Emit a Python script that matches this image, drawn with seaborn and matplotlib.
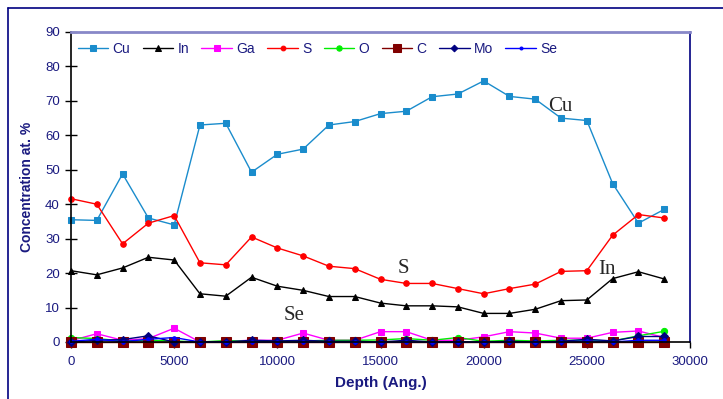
import numpy as np
import pandas as pd
import seaborn as sb
from matplotlib import pyplot as plt
from matplotlib.lines import Line2D

depth = [i * 1250 for i in range(24)]

cu = [35.5, 35.3, 48.8, 36.0, 34.0, 63.0, 63.5, 49.3, 54.5, 56.0, 63.0, 64.0,
      66.3, 67.0, 71.2, 72.0, 75.8, 71.3, 70.5, 65.0, 64.3, 46.0, 34.5, 38.5]
in_ = [20.7, 19.5, 21.5, 24.6, 23.8, 14.0, 13.3, 18.8, 16.2, 15.0, 13.2, 13.2,
       11.3, 10.5, 10.5, 10.2, 8.3, 8.3, 9.5, 12.0, 12.2, 18.4, 20.4, 18.3]
ga = [0.4, 2.4, 0.5, 1.0, 4.0, 0.0, 0.2, 0.5, 0.5, 2.6, 0.5, 0.5,
      3.0, 3.0, 0.5, 0.5, 1.5, 3.0, 2.6, 1.1, 1.1, 2.8, 3.2, 1.3]
s = [41.6, 40.0, 28.5, 34.5, 36.7, 23.0, 22.4, 30.5, 27.3, 25.0, 22.0, 21.3,
     18.2, 17.0, 17.0, 15.5, 14.0, 15.5, 16.8, 20.5, 20.7, 31.0, 37.0, 36.0]
o = [1.3, 1.0, 0.3, 0.5, 0.3, 0.0, 0.4, 0.2, 0.3, 0.3, 0.5, 0.5,
     0.6, 1.0, 0.5, 1.3, 0.2, 0.5, 0.3, 0.5, 0.5, 0.3, 1.8, 3.1]
c = [0.0] * 24
mo = [0.0, 0.5, 0.7, 1.8, 0.0, 0.0, 0.0, 0.5, 0.3, 0.5, 0.2, 0.2,
      0.0, 0.5, 0.0, 0.0, 0.0, 0.2, 0.0, 0.2, 0.8, 0.3, 1.6, 1.6]
se = [0.2, 0.8, 0.1, 0.8, 1.3, 0.0, 0.0, 0.0, 0.0, 0.0, 0.0, 0.0,
      0.0, 0.0, 0.0, 0.0, 0.0, 0.0, 0.0, 0.0, 0.3, 0.0, 0.5, 0.5]

series = [
    ("Cu", cu, "#1a8ccc", "s", 4.5),
    ("In", in_, "black", "^", 5),
    ("Ga", ga, "#ff00ff", "s", 4.5),
    ("S", s, "#ff0000", "o", 4),
    ("O", o, "#00ee00", "o", 4.5),
    ("C", c, "#800000", "s", 7),
    ("Mo", mo, "#000080", "D", 4),
    ("Se", se, "#0000ff", "o", 2.5),
]

navy = "#1a1a80"
sb.set_theme(style="white")
plt.rcParams["font.family"] = ["Liberation Sans", "DejaVu Sans"]

fig = plt.figure(figsize=(7.23, 3.99), dpi=100)
ax = fig.add_axes([71 / 723, 1 - 342 / 399, 619 / 723, 310 / 399])

for name, vals, col, mk, ms in series:
    df = pd.DataFrame({"Depth": depth, "Conc": vals})
    sb.lineplot(data=df, x="Depth", y="Conc", ax=ax, color=col, marker=mk,
                markersize=ms, markeredgecolor=col, linewidth=1, label=name,
                clip_on=False)

ax.set_xlim(0, 30000)
ax.set_ylim(0, 90)
ax.set_xticks(range(0, 30001, 5000))
ax.set_yticks(range(0, 91, 10))
ax.tick_params(axis="x", direction="out", length=4, width=1, colors="black",
               labelcolor=navy, labelsize=9.5, bottom=True, pad=6)
ax.tick_params(axis="y", direction="inout", length=8, width=1, colors="black",
               labelcolor=navy, labelsize=9.5, left=True, pad=4)

ax.set_xlabel("Depth (Ang.)", fontsize=11, fontweight="bold", color=navy, labelpad=6)
ax.set_ylabel("Concentration at. %", fontsize=10, fontweight="bold", color=navy, labelpad=8)

for side in ["left", "bottom"]:
    ax.spines[side].set_color("black")
    ax.spines[side].set_linewidth(1.2)
ax.spines["top"].set_color("#8888c8")
ax.spines["top"].set_linewidth(2)
ax.spines["right"].set_color("#000080")
ax.spines["right"].set_linewidth(1.2)

leg = ax.legend(loc="upper left", bbox_to_anchor=(-0.005, 1.0), ncol=8,
                frameon=False, fontsize=10, handlelength=2.2, handletextpad=0.3,
                columnspacing=0.9, borderaxespad=0.3, markerscale=0.85)
for t in leg.get_texts():
    t.set_color(navy)

serif = ["Liberation Serif", "DejaVu Serif"]
ax.text(23700, 68.5, "Cu", family=serif, fontsize=15, ha="center", va="center")
ax.text(16100, 21.3, "S", family=serif, fontsize=15, ha="center", va="center")
ax.text(26000, 21.0, "In", family=serif, fontsize=15, ha="center", va="center")
ax.text(10800, 7.8, "Se", family=serif, fontsize=15, ha="center", va="center")

# outer frame (top and left edges visible)
fig.add_artist(Line2D([8 / 723, 8 / 723], [0, 1 - 8 / 399], color="#000080", lw=1.2,
                      transform=fig.transFigure))
fig.add_artist(Line2D([8 / 723, 1], [1 - 8 / 399, 1 - 8 / 399], color="#000080", lw=1.2,
                      transform=fig.transFigure))

plt.savefig("out.png", dpi=100)
plt.close()
